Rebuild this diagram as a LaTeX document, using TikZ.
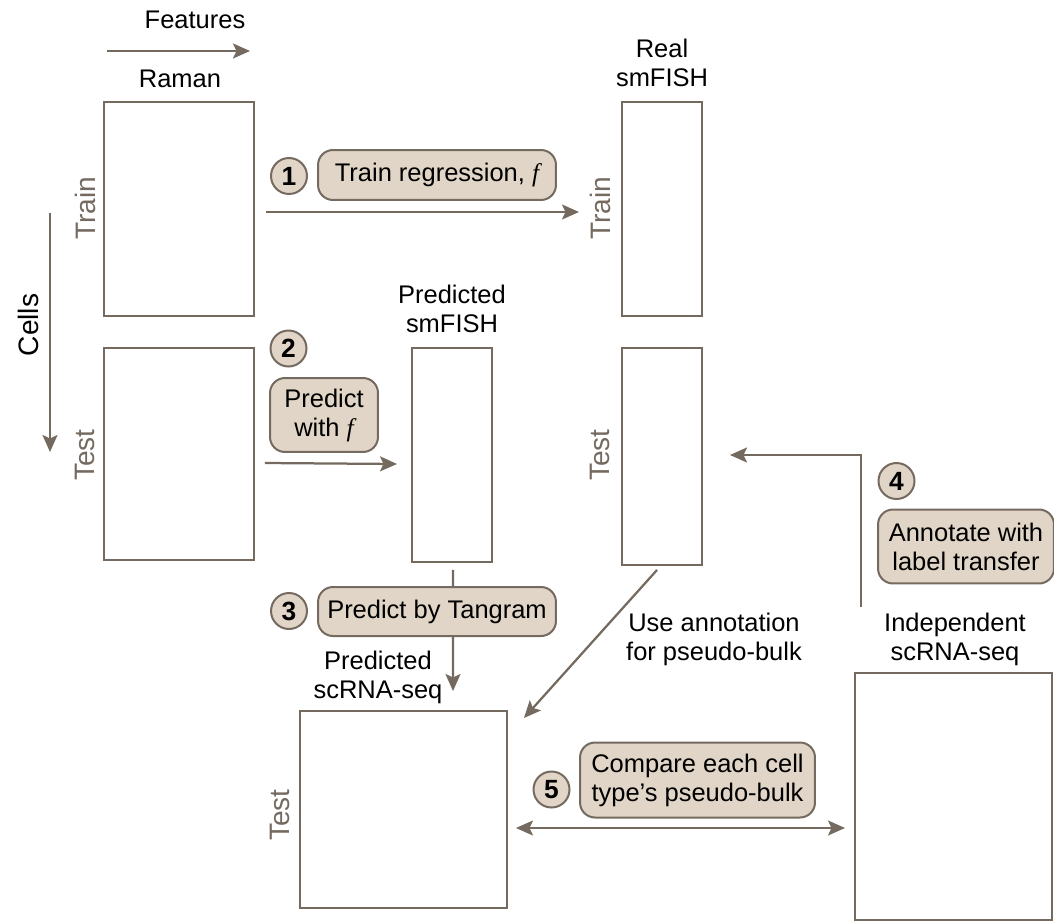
\documentclass[tikz,border=0pt]{standalone}
\usepackage{fontspec}
\setmainfont{Liberation Sans}
\newfontfamily\timesfam{Liberation Serif}
\newcommand{\fn}{{\timesfam\itshape f}}
\usetikzlibrary{arrows.meta,calc}
\definecolor{edge}{RGB}{117,106,95}
\definecolor{tan}{RGB}{224,213,198}
\tikzset{
  txt/.style={font=\fontsize{14.5pt}{16.5pt}\selectfont, align=center, inner sep=0pt},
  side/.style={rotate=90, text=edge, font=\fontsize{16pt}{18pt}\selectfont, inner sep=0pt},
  databox/.style={draw=edge, line width=0.04cm},
  stepnum/.style={circle, draw=edge, fill=tan, line width=0.04cm, minimum size=0.72cm, inner sep=0pt, font=\fontsize{15pt}{16pt}\selectfont\bfseries},
  stepbox/.style={draw=edge, fill=tan, line width=0.04cm, rounded corners=0.3cm, align=center, inner sep=0pt, font=\fontsize{14.5pt}{16.5pt}\selectfont},
  flow/.style={draw=edge, line width=0.045cm, -{Stealth[length=0.34cm,width=0.3cm,inset=0.07cm]}},
}
\begin{document}
\begin{tikzpicture}[x=0.02cm,y=-0.02cm]
\useasboundingbox (0,0) rectangle (1054,922);
\node[databox, minimum width=3cm, minimum height=4.28cm] (ramantrain) at (179,209) {};
\node[databox, minimum width=3cm, minimum height=4.24cm] (ramantest) at (179,454) {};
\node[databox, minimum width=1.6cm, minimum height=4.28cm] (realtrain) at (662,209) {};
\node[databox, minimum width=1.6cm, minimum height=4.34cm] (realtest) at (662,456.5) {};
\node[databox, minimum width=1.6cm, minimum height=4.28cm] (predfish) at (452,455) {};
\node[databox, minimum width=4.14cm, minimum height=3.94cm] (predrna) at (403.5,809.5) {};
\node[databox, minimum width=3.94cm, minimum height=4.94cm] (indrna) at (953.5,796.5) {};
\node[txt] (features) at (195,20) {Features};
\node[txt] (raman) at (180,79) {Raman};
\node[txt, font=\fontsize{16pt}{18pt}\selectfont] (cells) at (28,325) [rotate=90] {Cells};
\node[txt] (real) at (662,63) {Real\\smFISH};
\node[txt] (predlabel) at (452,309) {Predicted\\smFISH};
\node[txt] (rnalabel) at (378,677) {Predicted\\scRNA-seq};
\node[txt] (indlabel) at (955,639) {Independent\\scRNA-seq};
\node[txt] (uselabel) at (714,639) {Use annotation\\for pseudo-bulk};
\node[side] at (85,208) {Train};
\node[side] at (85,455) {Test};
\node[side] at (600,208) {Train};
\node[side] at (600,455) {Test};
\node[side] at (280,815) {Test};
\coordinate (featstart) at (107,51);
\coordinate (featend) at (250,51);
\coordinate (cellstart) at (50,213);
\coordinate (cellend) at (50,452);
\draw[flow] (featstart) -- (featend);
\draw[flow] (cellstart) -- (cellend);
\draw[flow] ($(ramantrain.east)+(11,3)$) -- ($(realtrain.west)+(-42,3)$);
\draw[flow] ($(ramantest.east)+(10,9)$) -- ($(predfish.west)+(-14,9)$);
\draw[flow] ($(predfish.south)+(1,7)$) -- ($(predrna.north)+(49.5,-19)$);
\draw[flow] ($(realtest.south)+(-5,4)$) -- ($(predrna.north east)+(16,8)$);
\draw[flow] ($(indrna.north)+(-92.5,-65)$) |- ($(realtest.east)+(27,-1.5)$);
\draw[flow, {Stealth[length=0.34cm,width=0.3cm,inset=0.07cm]}-{Stealth[length=0.34cm,width=0.3cm,inset=0.07cm]}] ($(predrna.east)+(8,18.5)$) -- ($(indrna.west)+(-9,31.5)$);
\node[stepnum] (num1) at (289,176) {1};
\node[stepnum] (num2) at (288.5,348.5) {2};
\node[stepnum] (num3) at (289,611) {3};
\node[stepnum] (num4) at (896.5,481) {4};
\node[stepnum] (num5) at (551.5,789.5) {5};
\node[stepbox, minimum width=4.76cm, minimum height=1cm] (train) at (437,175) {Train regression, \fn};
\node[stepbox, minimum width=2.16cm, minimum height=1.48cm] (predict) at (324,415) {Predict\\with \fn};
\node[stepbox, minimum width=4.76cm, minimum height=0.98cm] (tangram) at (437,611.5) {Predict by Tangram};
\node[stepbox, minimum width=3.52cm, minimum height=1.48cm] (annotate) at (966,546.5) {Annotate with\\label transfer};
\node[stepbox, minimum width=4.7cm, minimum height=1.5cm] (compare) at (697.5,780) {Compare each cell\\type's pseudo-bulk};
\end{tikzpicture}
\end{document}
